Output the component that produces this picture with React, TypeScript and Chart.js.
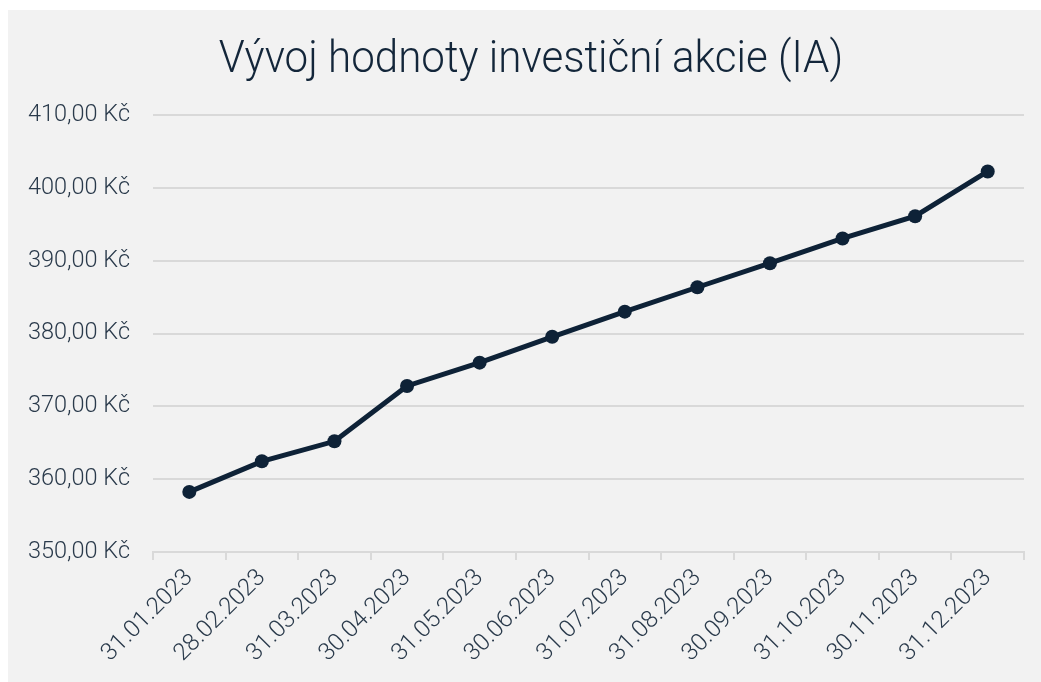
import React, { useEffect, useRef } from "react";
import { Chart, registerables } from "chart.js";

Chart.register(...registerables);

const titleText = "Vývoj hodnoty investiční akcie (IA)";
const dates = [
  "31.01.2023", "28.02.2023", "31.03.2023", "30.04.2023", "31.05.2023", "30.06.2023",
  "31.07.2023", "31.08.2023", "30.09.2023", "31.10.2023", "30.11.2023", "31.12.2023",
];
const values = [358.25, 362.45, 365.2, 372.8, 376.0, 379.55, 383.0, 386.35, 389.65, 393.05, 396.1, 402.25];
const yMin = 350;
const yMax = 410;
const yStep = 10;

const lineColor = "#0e2237";
const textColor = "#2a3a4b";
const titleColor = "#13263a";
const gridColor = "#d9d9d9";

const titlePlugin = {
  id: "customTitle",
  afterDraw(chart: any) {
    const ctx = chart.ctx as CanvasRenderingContext2D;
    ctx.save();
    ctx.font = "300 44px Roboto";
    ctx.fillStyle = titleColor;
    ctx.textAlign = "center";
    ctx.textBaseline = "alphabetic";
    const cx = 523;
    ctx.translate(cx, 62);
    ctx.scale(0.957, 1);
    ctx.fillText(titleText, 0, 0);
    ctx.restore();
  },
};

export default function App() {
  const ref = useRef<HTMLCanvasElement>(null);
  useEffect(() => {
    if (!ref.current) return;
    const chart = new Chart(ref.current, {
      type: "line",
      data: {
        labels: dates,
        datasets: [
          {
            data: values,
            borderColor: lineColor,
            backgroundColor: lineColor,
            borderWidth: 5,
            pointRadius: 7,
            pointBackgroundColor: lineColor,
            pointBorderWidth: 0,
            tension: 0,
          },
        ],
      },
      options: {
        animation: false,
        responsive: false,
        maintainAspectRatio: false,
        layout: { padding: { left: 0, right: 17, top: 105, bottom: 0 } },
        plugins: {
          legend: { display: false },
          tooltip: { enabled: false },
          title: { display: false },
        },
        scales: {
          x: {
            offset: true,
            grid: {
              display: true,
              offset: true,
              drawOnChartArea: false,
              drawTicks: true,
              tickLength: 8,
              color: gridColor,
              lineWidth: 2,
            },
            border: { display: true, color: gridColor, width: 2 },
            ticks: {
              color: textColor,
              font: { family: "Roboto", size: 24, weight: "300" },
              maxRotation: 45,
              minRotation: 45,
              padding: 4,
            },
            afterFit: (scale: any) => {
              scale.height = 130;
            },
          },
          y: {
            min: yMin,
            max: yMax,
            grid: { color: gridColor, lineWidth: 2, drawTicks: false },
            border: { display: false },
            ticks: {
              stepSize: yStep,
              color: textColor,
              padding: 23,
              font: { family: "Roboto", size: 23.5, weight: "300" },
              callback: (v: any) => Number(v).toFixed(2).replace(".", ",") + " Kč",
            },
            afterFit: (scale: any) => {
              scale.width = 145;
            },
          },
        },
      },
      plugins: [titlePlugin],
    });
    return () => chart.destroy();
  }, []);
  return (
    <div
      style={{
        position: "absolute",
        left: 8,
        top: 10,
        width: 1033,
        height: 672,
        background: "#f2f2f2",
      }}
    >
      <canvas ref={ref} width={1033} height={672} style={{ display: "block" }} />
    </div>
  );
}
